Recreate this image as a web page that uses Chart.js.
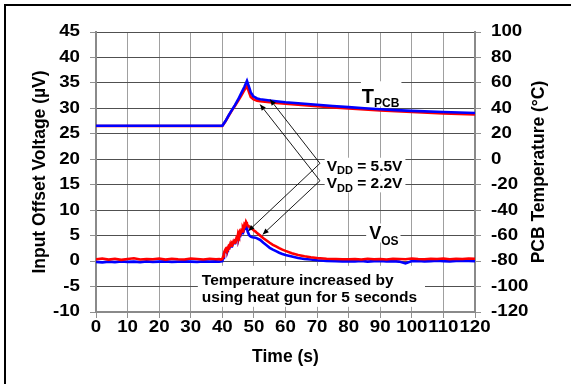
<!DOCTYPE html>
<html><head><meta charset="utf-8">
<script src="https://cdn.jsdelivr.net/npm/chart.js@4"></script>
<style>
html,body{margin:0;padding:0;background:#fff;overflow:hidden}
#wrap{position:relative;width:571px;height:384px;background:#fff}
#frame{position:absolute;left:4px;top:4px;right:0;bottom:0;border-left:2px solid #000;border-top:2px solid #000;pointer-events:none}
canvas{position:absolute;left:0;top:0}
</style></head><body>
<div id="wrap"><canvas id="c" width="571" height="384"></canvas><div id="frame"></div></div>
<script>
// ---- data ----
const tpcbTime = [0,10,20,30,40,41,42,43,44,45,46,47,47.8,48.5,49,49.8,51,52,55,57,60,65,70,75,80,85,90,95,100,110,120];
const tpcb55 = [26.3,26.3,26.3,26.3,26.3,30,34.5,38.6,42.5,47,52,57,61.6,56.5,52.5,49.5,47.8,47.2,46.2,45.6,44.8,43.8,42.8,41.9,41.0,40.1,39.3,38.6,38.0,37.1,36.4];
const tpcb22 = [26.2,26.2,26.2,26.2,26.2,29.8,34.2,38.2,42,46,50,54.5,57.5,52.5,49,47.2,46.0,45.6,44.8,44.3,43.6,42.6,41.7,40.8,40.0,39.2,38.4,37.7,37.1,36.1,35.3];

const vosTime = [0,2,4,6,8,10,12,14,16,18,20,22,24,26,28,30,32,34,36,38,39,39.5,
  40,40.25,40.5,40.75,41,41.25,41.5,41.75,42,42.25,42.5,42.75,43,43.25,43.5,43.75,44,44.25,44.5,44.75,45,45.25,45.5,45.75,46,46.25,46.5,46.75,47,47.25,47.5,47.75,
  48,48.5,49,49.5,50,50.5,51,52,53,54,55,56,57,58,59,60,62,64,66,68,70,73,76,78,
  80,82,84,86,88,90,92,94,96,98,100,102,104,106,108,110,112,114,116,118,120];
const vos22 = [0.35,0.5,0.3,0.45,0.25,0.4,0.55,0.3,0.4,0.35,0.5,0.3,0.45,0.35,0.3,0.5,0.4,0.3,0.45,0.35,0.4,0.3,
  0.4,0.9,1.5,2.0,2.3,2.0,2.5,2.4,2.9,2.7,3.3,3.0,3.5,3.3,3.8,3.6,4.0,3.9,4.6,4.4,5.4,5.0,5.7,5.4,6.0,5.8,6.6,6.3,7.2,7.0,7.7,7.4,
  7.0,6.8,6.5,6.3,6.0,5.8,5.5,5.0,4.5,4.05,3.6,3.2,2.9,2.55,2.25,2.0,1.55,1.2,0.95,0.75,0.6,0.45,0.4,0.35,
  0.35,0.4,0.3,0.45,0.35,0.4,0.3,0.45,0.4,0.35,0.5,0.4,0.35,0.45,0.4,0.5,0.35,0.45,0.4,0.5,0.45];
const vos55 = [-0.15,-0.25,-0.1,-0.2,-0.05,-0.15,-0.1,-0.2,-0.05,-0.15,-0.1,-0.05,-0.15,-0.1,-0.05,-0.1,-0.15,-0.05,-0.1,-0.05,-0.1,-0.05,
  0.0,0.6,1.3,1.8,2.1,1.9,2.3,2.2,2.7,2.6,3.0,2.9,3.3,3.2,3.6,3.5,3.9,3.8,4.3,4.2,4.9,4.7,5.3,5.1,5.6,5.5,6.0,5.9,6.5,6.4,7.0,6.9,
  5.8,5.1,4.8,4.7,4.65,4.6,4.45,4.15,3.6,3.1,2.6,2.25,1.95,1.65,1.4,1.2,0.9,0.6,0.4,0.3,0.15,0.05,0.0,-0.05,
  0.0,-0.05,0.05,-0.1,0.0,0.05,-0.05,0.0,-0.1,-0.45,0.0,0.05,-0.05,0.0,0.1,0.0,-0.05,0.05,0.1,0.05,0.0];

const leftAxis = {min:-10, max:45, step:5, title:'Input Offset Voltage (\u00b5V)'};
const rightAxis = {min:-120, max:100, step:20, title:'PCB Temperature (\u00b0C)'};
const xAxis = {min:0, max:120, step:10, title:'Time (s)'};

// ---- annotations (data units: x = s, y = left axis µV) ----
const labelDefs = [
  {x:84.18, y:31.0, parts:[['T',20,0],['PCB',12,3.5]], box:[1,2,22,3]},
  {x:86.49, y:4.25, parts:[['V',18,0],['OS',12,5.5]], box:[3,2,16,3]},
  {x:73.03, y:17.75, parts:[['V',15.5,0],['DD',11,3.6],[' = 5.5V',15.5,0]], box:[2,3,13,4]},
  {x:73.03, y:14.29, parts:[['V',15.5,0],['DD',11,3.6],[' = 2.2V',15.5,0]], box:[2,3,13,4]}
];
const noteLines = ['Temperature increased by', 'using heat gun for 5 seconds'];
const noteDef = {x:33.51, y1:-4.76, y2:-8.0, box:[4, 425, 19.5, 5]};
const arrowDefs = [
  {from:[70.91,19.2], to:[55.11,31.75]},
  {from:[70.91,19.2], to:[48.24,5.92]},
  {from:[70.91,15.78], to:[51.95,30.76]},
  {from:[70.91,15.78], to:[52.79,5.24]}
];

const FONT = '"Liberation Sans", Arial, Helvetica, sans-serif';
const TICK_SX = 1.17;
function partsWidth(ctx, parts){
  let w=0; for (const [t,s] of parts){ ctx.font='bold '+s+'px '+FONT; w+=ctx.measureText(t).width; } return w;
}
function drawParts(ctx, x0, y0, parts){
  let x=x0;
  for (const [t,s,dy] of parts){ ctx.font='bold '+s+'px '+FONT; ctx.fillText(t,x,y0+dy); x+=ctx.measureText(t).width; }
}
const annot = {
  id:'annot',
  beforeDatasetsDraw(chart){
    const ctx=chart.ctx, xs=chart.scales.x, ys=chart.scales.y;
    ctx.save();
    ctx.textBaseline='alphabetic'; ctx.textAlign='left';
    for (const L of labelDefs){
      const px=xs.getPixelForValue(L.x), py=ys.getPixelForValue(L.y);
      const w=partsWidth(ctx,L.parts);
      ctx.fillStyle='#fff';
      ctx.fillRect(px-L.box[0], py-L.box[2], w+L.box[0]+L.box[1], L.box[2]+L.box[3]);
      ctx.fillStyle='#000';
      drawParts(ctx,px,py,L.parts);
    }
    const nx=xs.getPixelForValue(noteDef.x), ny1=ys.getPixelForValue(noteDef.y1), ny2=ys.getPixelForValue(noteDef.y2);
    ctx.fillStyle='#fff';
    ctx.fillRect(nx-noteDef.box[0], ny1-noteDef.box[2], noteDef.box[1]-(nx-noteDef.box[0]), (ny2+noteDef.box[3])-(ny1-noteDef.box[2]));
    ctx.fillStyle='#000';
    ctx.font='bold 15.5px '+FONT;
    ctx.fillText(noteLines[0],nx,ny1);
    ctx.fillText(noteLines[1],nx,ny2);
    ctx.restore();
  },
  afterDatasetsDraw(chart){
    const ctx=chart.ctx, xs=chart.scales.x, ys=chart.scales.y;
    ctx.save();
    ctx.strokeStyle='#000'; ctx.fillStyle='#000'; ctx.lineWidth=0.9;
    for (const A of arrowDefs){
      const x1=xs.getPixelForValue(A.from[0]), y1=ys.getPixelForValue(A.from[1]);
      const x2=xs.getPixelForValue(A.to[0]), y2=ys.getPixelForValue(A.to[1]);
      ctx.beginPath(); ctx.moveTo(x1,y1); ctx.lineTo(x2,y2); ctx.stroke();
      const ang=Math.atan2(y2-y1,x2-x1), len=6, hw=2.6;
      const bx=x2-len*Math.cos(ang), by=y2-len*Math.sin(ang);
      ctx.beginPath();
      ctx.moveTo(x2,y2);
      ctx.lineTo(bx+hw*Math.sin(ang), by-hw*Math.cos(ang));
      ctx.lineTo(bx-hw*Math.sin(ang), by+hw*Math.cos(ang));
      ctx.closePath(); ctx.fill();
    }
    ctx.restore();
  },
  afterDraw(chart){
    const ctx=chart.ctx; const {x, y, y2}=chart.scales; const ca=chart.chartArea;
    ctx.save();
    ctx.fillStyle='#000'; ctx.font='bold 16px '+FONT; ctx.textBaseline='middle';
    const put=(txt,px,py,align)=>{ctx.save();ctx.translate(px,py);ctx.scale(TICK_SX,1);ctx.textAlign=align;ctx.fillText(txt,0,0);ctx.restore();};
    x.ticks.forEach(t=>put(String(t.value), x.getPixelForValue(t.value), x.top+16, 'center'));
    y.ticks.forEach(t=>put(String(t.value), y.right-16, y.getPixelForValue(t.value), 'right'));
    y2.ticks.forEach(t=>put(String(t.value), y2.left+16, y2.getPixelForValue(t.value), 'left'));
    // right axis title, reading bottom-to-top
    ctx.font='bold 17.5px '+FONT; ctx.textAlign='center';
    ctx.translate(539.5,(ca.top+ca.bottom)/2); ctx.rotate(-Math.PI/2);
    ctx.fillText(rightAxis.title,0,0);
    ctx.restore();
  }
};

const pts = (xs, ys) => xs.map((x,i)=>({x, y:ys[i]}));
const titleFont = {family:FONT, size:17.5, weight:'bold'};

new Chart(document.getElementById('c'), {
  type:'line',
  data:{datasets:[
    {label:'TPCB 5.5V', data:pts(tpcbTime,tpcb55), yAxisID:'y2', borderColor:'#0000ff', borderWidth:2.6, order:0},
    {label:'TPCB 2.2V', data:pts(tpcbTime,tpcb22), yAxisID:'y2', borderColor:'#ff0000', borderWidth:2.6, order:1},
    {label:'VOS 2.2V', data:pts(vosTime,vos22), yAxisID:'y', borderColor:'#ff0000', borderWidth:2.6, order:2},
    {label:'VOS 5.5V', data:pts(vosTime,vos55), yAxisID:'y', borderColor:'#0000ff', borderWidth:2.6, order:3}
  ]},
  options:{
    responsive:false, animation:false, devicePixelRatio:1,
    layout:{padding:{top:32,left:0,right:0,bottom:0}},
    elements:{point:{radius:0}, line:{tension:0, fill:false}},
    plugins:{legend:{display:false}, tooltip:{enabled:false}},
    scales:{
      x:{type:'linear', min:xAxis.min, max:xAxis.max,
        ticks:{stepSize:xAxis.step, display:false, autoSkip:false, maxRotation:0},
        grid:{color:'#a0a0a0', lineWidth:1, tickLength:6, tickColor:'#909090'},
        border:{color:'#8a8a8a', width:2},
        title:{display:true, text:xAxis.title, font:titleFont, color:'#000', padding:{top:0,bottom:16.5}},
        afterFit(s){ s.height=72; }
      },
      y:{type:'linear', position:'left', min:leftAxis.min, max:leftAxis.max,
        ticks:{stepSize:leftAxis.step, display:false},
        grid:{color:'#505050', lineWidth:1, tickLength:6, tickColor:'#909090'},
        border:{color:'#8a8a8a', width:2},
        title:{display:true, text:leftAxis.title, font:titleFont, color:'#000', padding:{top:29.5,bottom:0}},
        afterFit(s){ s.width=96; }
      },
      y2:{type:'linear', position:'right', min:rightAxis.min, max:rightAxis.max,
        ticks:{stepSize:rightAxis.step, display:false},
        grid:{drawOnChartArea:false, tickLength:6, tickColor:'#909090'},
        border:{color:'#8a8a8a', width:2},
        title:{display:false},
        afterFit(s){ s.width=96; }
      }
    }
  },
  plugins:[annot]
});
</script>
</body></html>
